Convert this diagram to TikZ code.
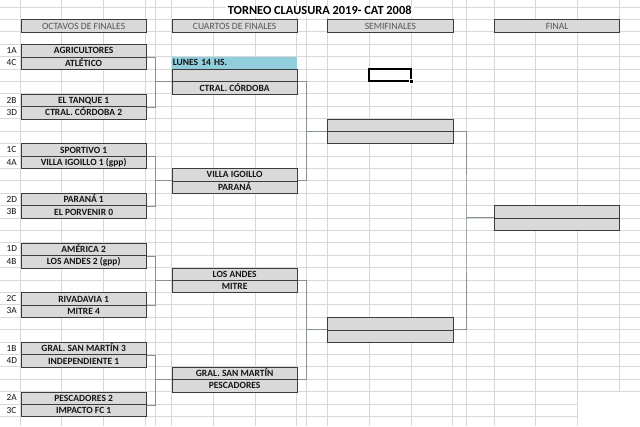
\documentclass[tikz,border=0pt]{standalone}
\usepackage{fontspec}
\setmainfont{Carlito}
\definecolor{gridc}{RGB}{214,217,217}
\definecolor{connc}{RGB}{135,145,145}
\definecolor{boxc}{RGB}{60,60,60}
\definecolor{cellfill}{RGB}{217,217,217}
\definecolor{aqua}{RGB}{146,205,220}
\definecolor{hdrtext}{RGB}{85,85,85}
\definecolor{teamtext}{RGB}{20,20,20}
\begin{document}
\begin{tikzpicture}[x=1pt,y=-12.41pt,
  cellbox/.style={draw=boxc, line width=0.9pt, fill=cellfill, minimum width=125pt, minimum height=12.41pt, inner sep=0pt, text height=6.1pt, text depth=0pt, anchor=north west, text=teamtext, font=\bfseries\fontsize{9.5}{10}\selectfont},
  hdrbox/.style={cellbox, text=hdrtext, font=\fontsize{9.6}{10}\selectfont},
  seed/.style={anchor=west, inner sep=0pt, text height=6.1pt, text depth=0pt, text=teamtext, font=\fontsize{9.3}{10}\selectfont},
  conn/.style={draw=connc, line width=0.8pt},
  gridline/.style={draw=gridc, line width=0.6pt}]

\useasboundingbox (0,-1.5552) rectangle (640,32.773);
\fill[white] (0,-1.5552) rectangle (640,32.773);

% spreadsheet grid
\foreach \n in {-1,...,32} \draw[gridline] (0,\n) -- (640,\n);
\foreach \x in {20.7,61.7,103.3,145.7,155.7,171.7,213.3,255,296.7,306.7,327.3,369.3,411,452.7,466,494,535.7,577.3,619.3}
  \draw[gridline] (\x,-1.5552) -- (\x,32.773);
\fill[white] (577.9,30.06) rectangle (640,32.773);

% title
\node[fill=white, anchor=base, inner xsep=2pt, inner ysep=0pt, text height=8pt, text depth=2pt, font=\bfseries\fontsize{12.4}{13}\selectfont] (title) at (319.7,-0.347) {TORNEO CLAUSURA 2019- CAT 2008};

% connector spines
\coordinate (j1) at (155.7,5);
\coordinate (j2) at (155.7,13);
\coordinate (j3) at (155.7,21);
\coordinate (j4) at (155.7,29);
\coordinate (k1) at (306.7,9);
\coordinate (k2) at (306.7,25);
\coordinate (f1) at (466,16);

% headers
\node[hdrbox] (h1) at (20.7,0) {OCTAVOS DE FINALES};
\node[hdrbox] (h2) at (171.7,0) {CUARTOS DE FINALES};
\node[hdrbox, minimum width=125.4pt] (h3) at (327.3,0) {SEMIFINALES};
\node[hdrbox, minimum width=125.3pt] (h4) at (494,0) {FINAL};

% octavos
\node[cellbox] (o1a) at (20.7,2) {AGRICULTORES};
\node[cellbox] (o1b) at (20.7,3) {ATLÉTICO};
\node[cellbox] (o2a) at (20.7,6) {EL TANQUE 1};
\node[cellbox] (o2b) at (20.7,7) {CTRAL. CÓRDOBA 2};
\node[cellbox] (o3a) at (20.7,10) {SPORTIVO 1};
\node[cellbox] (o3b) at (20.7,11) {VILLA IGOILLO 1 (gpp)};
\node[cellbox] (o4a) at (20.7,14) {PARANÁ 1};
\node[cellbox] (o4b) at (20.7,15) {EL PORVENIR 0};
\node[cellbox] (o5a) at (20.7,18) {AMÉRICA 2};
\node[cellbox] (o5b) at (20.7,19) {LOS ANDES 2 (gpp)};
\node[cellbox] (o6a) at (20.7,22) {RIVADAVIA 1};
\node[cellbox] (o6b) at (20.7,23) {MITRE 4};
\node[cellbox] (o7a) at (20.7,26) {GRAL. SAN MARTÍN 3};
\node[cellbox] (o7b) at (20.7,27) {INDEPENDIENTE 1};
\node[cellbox] (o8a) at (20.7,30) {PESCADORES 2};
\node[cellbox] (o8b) at (20.7,31) {IMPACTO FC 1};

% seeds
\node[seed] (s1a) at (6.5,2.5) {1A};
\node[seed] (s1b) at (6.5,3.5) {4C};
\node[seed] (s2a) at (6.5,6.5) {2B};
\node[seed] (s2b) at (6.5,7.5) {3D};
\node[seed] (s3a) at (6.5,10.5) {1C};
\node[seed] (s3b) at (6.5,11.5) {4A};
\node[seed] (s4a) at (6.5,14.5) {2D};
\node[seed] (s4b) at (6.5,15.5) {3B};
\node[seed] (s5a) at (6.5,18.5) {1D};
\node[seed] (s5b) at (6.5,19.5) {4B};
\node[seed] (s6a) at (6.5,22.5) {2C};
\node[seed] (s6b) at (6.5,23.5) {3A};
\node[seed] (s7a) at (6.5,26.5) {1B};
\node[seed] (s7b) at (6.5,27.5) {4D};
\node[seed] (s8a) at (6.5,30.5) {2A};
\node[seed] (s8b) at (6.5,31.5) {3C};

% cuartos
\node[anchor=north west, fill=aqua, text width=123pt, inner xsep=1pt, inner ysep=0pt, minimum height=12.41pt, text height=6.1pt, text depth=0pt, align=left, text=teamtext, font=\bfseries\fontsize{9.5}{10}\selectfont] (lunes) at (171.7,3) {LUNES 14 HS.};
\node[cellbox] (q1a) at (171.7,4) {};
\node[cellbox] (q1b) at (171.7,5) {CTRAL. CÓRDOBA};
\node[cellbox] (q2a) at (171.7,12) {VILLA IGOILLO};
\node[cellbox] (q2b) at (171.7,13) {PARANÁ};
\node[cellbox] (q3a) at (171.7,20) {LOS ANDES};
\node[cellbox] (q3b) at (171.7,21) {MITRE};
\node[cellbox] (q4a) at (171.7,28) {GRAL. SAN MARTÍN};
\node[cellbox] (q4b) at (171.7,29) {PESCADORES};

% semifinales
\node[cellbox, minimum width=125.4pt] (m1a) at (327.3,8) {};
\node[cellbox, minimum width=125.4pt] (m1b) at (327.3,9) {};
\node[cellbox, minimum width=125.4pt] (m2a) at (327.3,24) {};
\node[cellbox, minimum width=125.4pt] (m2b) at (327.3,25) {};

% final
\node[cellbox, minimum width=125.3pt] (fa) at (494,15) {};
\node[cellbox, minimum width=125.3pt] (fb) at (494,16) {};

% connectors
\draw[conn] (o1a.south east) -| (j1) |- (o2a.south east);
\draw[conn] (j1) -- (q1b.north west);
\draw[conn] (o3a.south east) -| (j2) |- (o4a.south east);
\draw[conn] (j2) -- (q2b.north west);
\draw[conn] (o5a.south east) -| (j3) |- (o6a.south east);
\draw[conn] (j3) -- (q3b.north west);
\draw[conn] (o7a.south east) -| (j4) |- (o8a.south east);
\draw[conn] (j4) -- (q4b.north west);
\draw[conn] (q1b.north east) -| (k1) |- (q2b.north east);
\draw[conn] (k1) -- (m1b.north west);
\draw[conn] (q3b.north east) -| (k2) |- (q4b.north east);
\draw[conn] (k2) -- (m2b.north west);
\draw[conn] (m1b.north east) -| (f1) |- (m2b.north east);
\draw[conn] (f1) -- (fb.north west);

% selected cell
\draw[line width=2pt, black] (369.3,4) rectangle (411,5);
\node[fill=black, draw=white, line width=0.5pt, minimum size=3.5pt, inner sep=0pt] (handle) at (411,5) {};
\end{tikzpicture}
\end{document}
